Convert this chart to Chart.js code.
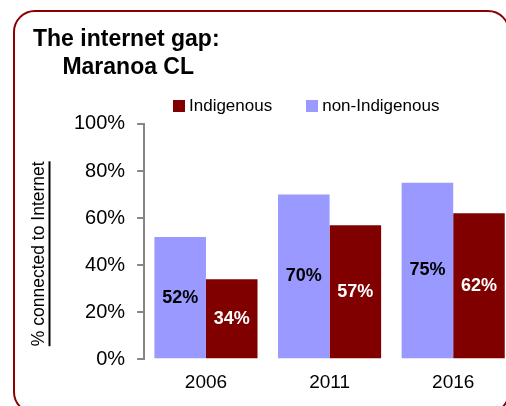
<!DOCTYPE html>
<html>
<head>
<meta charset="utf-8">
<script src="https://cdn.jsdelivr.net/npm/chart.js@4.4.0/dist/chart.umd.min.js"></script>
<style>
  html, body { margin: 0; padding: 0; background: #fff; overflow: hidden; width: 506px; height: 406px; }
  #frame { position: absolute; left: 13px; top: 10px; width: 497px; height: 404px; box-sizing: border-box;
           border: 2.5px solid #8b0000; border-radius: 22px; }
  #wrap { position: absolute; left: 0; top: 0; width: 520px; height: 406px; }
  #legend { position: absolute; left: 173px; top: 96px; font: 17px "Liberation Sans", Arial, sans-serif;
            color: #000; white-space: nowrap; display: flex; }
  #legend .item { display: flex; align-items: center; line-height: 20px; margin-right: 34px; }
  #legend .box { width: 12px; height: 12px; margin-right: 4px; }
</style>
</head>
<body>
<div id="frame"></div>
<div id="wrap"><canvas id="chart"></canvas></div>
<div id="legend"></div>
<script>
// data
const years = ['2006', '2011', '2016'];
const nonIndigenous = [52, 70, 75];
const indigenous = [34, 57, 62];
const seriesNames = ['non-Indigenous', 'Indigenous'];
const seriesColors = ['#9999ff', '#800000'];
const labelColors = ['#000000', '#ffffff'];
const yMin = 0, yMax = 100, yStep = 20;

const FONT = '"Liberation Sans", Arial, sans-serif';

// value labels in the middle of each bar
const barLabels = {
	id: 'barLabels',
	afterDatasetsDraw(chart) {
		const ctx = chart.ctx;
		ctx.save();
		ctx.font = 'bold 18px ' + FONT;
		ctx.textAlign = 'center';
		ctx.textBaseline = 'middle';
		chart.data.datasets.forEach((ds, i) => {
			ctx.fillStyle = labelColors[i];
			chart.getDatasetMeta(i).data.forEach((bar, j) => {
				ctx.fillText(ds.data[j] + '%', bar.x, (bar.y + bar.base) / 2);
			});
		});
		ctx.restore();
	}
};

// the y title is underlined in the original
const axisUnderline = {
	id: 'axisUnderline',
	afterDraw(chart) {
		const s = chart.scales.y;
		const t = s.options.title;
		const ctx = chart.ctx;
		ctx.save();
		ctx.font = Chart.helpers.toFont(t.font).string;
		const full = ctx.measureText(t.text).width;
		const vis = ctx.measureText(t.text.trim()).width;
		const cy = (s.top + s.bottom) / 2;
		const x = s.left + 16.5;
		ctx.strokeStyle = '#000';
		ctx.lineWidth = 2;
		ctx.beginPath();
		ctx.moveTo(x, cy + full / 2);
		ctx.lineTo(x, cy + full / 2 - vis);
		ctx.stroke();
		ctx.restore();
	}
};

const chart = new Chart(document.getElementById('chart'), {
	type: 'bar',
	data: {
		labels: years,
		datasets: [
			{ label: seriesNames[0], data: nonIndigenous, backgroundColor: seriesColors[0] },
			{ label: seriesNames[1], data: indigenous, backgroundColor: seriesColors[1] },
		],
	},
	options: {
		responsive: true,
		maintainAspectRatio: false,
		animation: false,
		categoryPercentage: 0.834,
		barPercentage: 1.0,
		layout: { padding: { left: 33, right: 5, top: 26, bottom: 0 } },
		plugins: {
			legend: { display: false },
			tooltip: { enabled: false },
			title: {
				display: true,
				text: ['The internet gap:', '\u2002\u2002 Maranoa CL'],
				align: 'start',
				color: '#000',
				font: { family: FONT, size: 23, weight: 'bold', lineHeight: 1.217 },
				padding: { top: 0, bottom: 42 },
			},
		},
		scales: {
			x: {
				grid: { display: false, drawTicks: false },
				border: { display: false },
				ticks: { color: '#000', font: { family: FONT, size: 19 }, padding: 12 },
			},
			y: {
				min: yMin,
				max: yMax,
				grid: { drawOnChartArea: false, drawTicks: true, tickLength: 7, color: '#868686', lineWidth: 2 },
				border: { display: true, color: '#868686', width: 2 },
				ticks: {
					stepSize: yStep,
					color: '#000',
					font: { family: FONT, size: 20 },
					padding: 12,
					callback: v => v + '%',
				},
				title: {
					display: true,
					text: '% connected to Internet     ',
					color: '#000',
					font: { family: FONT, size: 17.5 },
					padding: { top: -4, bottom: 12 },
				},
			},
		},
	},
	plugins: [barLabels, axisUnderline],
});

// legend: Indigenous listed first, as in the original
const legend = document.getElementById('legend');
chart.data.datasets.slice().reverse().forEach(ds => {
	const item = document.createElement('span');
	item.className = 'item';
	const box = document.createElement('span');
	box.className = 'box';
	box.style.background = ds.backgroundColor;
	item.appendChild(box);
	item.appendChild(document.createTextNode(ds.label));
	legend.appendChild(item);
});
</script>
</body>
</html>
